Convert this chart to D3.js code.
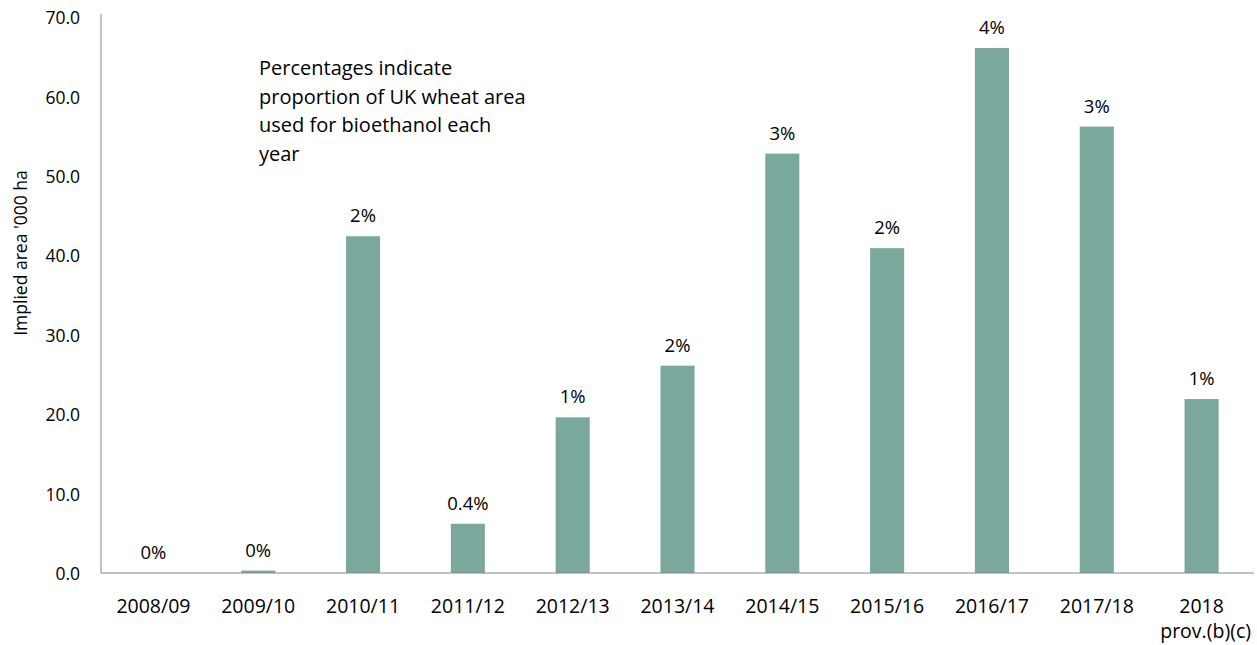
<!DOCTYPE html>
<html><head><meta charset="utf-8">
<script src="https://cdn.jsdelivr.net/npm/d3@7"></script>
<style>body{margin:0;background:#fff}svg{display:block}text{font-family:"Open Sans",sans-serif;fill:#000}</style>
</head><body>
<svg id="c" width="1257" height="645"></svg>
<script>
const categories = ["2008/09","2009/10","2010/11","2011/12","2012/13","2013/14","2014/15","2015/16","2016/17","2017/18","2018\nprov.(b)(c)"];
const values = [0, 0.3, 42.4, 6.2, 19.6, 26.1, 52.8, 40.9, 66.1, 56.2, 21.9];
const pctLabels = ["0%","0%","2%","0.4%","1%","2%","3%","2%","4%","3%","1%"];
const yTicks = [0,10,20,30,40,50,60,70];
const note = ["Percentages indicate","proportion of UK wheat area","used for bioethanol each","year"];

const FONT = "'Open Sans',sans-serif";
const svg = d3.select("#c");
const mLeft = 101, mRight = 1254, mTop = 17, mBottom = 573;
const x = d3.scaleBand().domain(categories).range([mLeft, mRight]).paddingInner(0.675).paddingOuter(0.3375);
const y = d3.scaleLinear().domain([0,70]).range([mBottom, mTop]);

svg.selectAll("rect.bar").data(values).join("rect")
  .attr("x",(d,i)=>x(categories[i])).attr("width",x.bandwidth())
  .attr("y",d=>y(d)).attr("height",d=>mBottom-y(d)).attr("fill","#7ba89d");

svg.selectAll("text.pct").data(values).join("text")
  .attr("x",(d,i)=>x(categories[i])+x.bandwidth()/2).attr("y",d=>y(d)-14)
  .attr("text-anchor","middle").attr("font-size",18.5).text((d,i)=>pctLabels[i]);

// y axis
const ya = svg.append("g").attr("transform",`translate(${mLeft},0)`)
  .call(d3.axisLeft(y).tickValues(yTicks).tickFormat(d3.format(".1f")).tickSize(0).tickPadding(21));
ya.select(".domain").attr("stroke","#868686").attr("d",`M0,${mTop-3}V${mBottom}`);
ya.selectAll("text").attr("font-size",17.5).attr("dy","0.38em").attr("font-family",FONT).attr("fill","#000");

// x axis
const xa = svg.append("g").attr("transform",`translate(0,${mBottom})`)
  .call(d3.axisBottom(x).tickSize(0).tickPadding(0).tickFormat(""));
xa.select(".domain").attr("stroke","#868686").attr("d",`M${mLeft},0H${mRight}`);
xa.selectAll(".tick").each(function(d){
  const lines = d.split("\n");
  const t = d3.select(this).append("text").attr("text-anchor","middle").attr("font-size",19.5)
    .attr("font-family",FONT).attr("fill","#000");
  lines.forEach((l,i)=>t.append("tspan").attr("x", i? 4:0).attr("y", 40 + i*25).text(l));
});

// y title
svg.append("text").attr("transform","translate(27,253) rotate(-90)").attr("text-anchor","middle")
  .attr("font-size",17.5).text("Implied area '000 ha");

// note
svg.append("g").selectAll("text").data(note).join("text")
  .attr("x",259).attr("y",(d,i)=>75+i*28.5).attr("font-size",20).text(d=>d);
</script>
</body></html>
